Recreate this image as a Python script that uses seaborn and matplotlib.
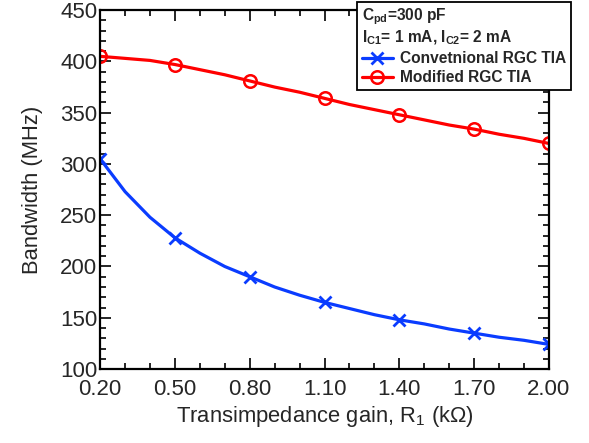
import numpy as np
import matplotlib
matplotlib.use('Agg')
import matplotlib.pyplot as plt
import seaborn as sns
from matplotlib.ticker import MultipleLocator, FormatStrFormatter

# data (every 0.1 kOhm, markers every 0.3)
gain = [0.2, 0.3, 0.4, 0.5, 0.6, 0.7, 0.8, 0.9, 1.0, 1.1,
        1.2, 1.3, 1.4, 1.5, 1.6, 1.7, 1.8, 1.9, 2.0]
bw_conv = [305, 273, 248, 228, 213, 200, 190, 180, 172, 165,
           159, 153, 148, 144, 139, 135, 131, 128, 124]
bw_mod = [405, 403, 401, 397, 392, 387, 381, 375, 370, 364,
          358, 353, 348, 343, 338, 334, 329, 325, 320]
x_ticks = [0.2, 0.5, 0.8, 1.1, 1.4, 1.7, 2.0]

sns.set_style('ticks')
plt.rcParams['font.family'] = ['Liberation Sans', 'DejaVu Sans']
plt.rcParams['mathtext.fontset'] = 'custom'
plt.rcParams['mathtext.rm'] = 'Liberation Sans'
plt.rcParams['mathtext.it'] = 'Liberation Sans:italic'
plt.rcParams['mathtext.bf'] = 'Liberation Sans:bold'

fig = plt.figure(figsize=(5.89, 4.43), dpi=100)
ax = fig.add_axes([0.170, 0.167, 0.762, 0.810])

sns.lineplot(x=gain, y=bw_conv, ax=ax, color='#0a3cff', lw=2.3,
             marker='x', markersize=8, markeredgewidth=2,
             markeredgecolor='#0a3cff', markevery=3,
             label='Convetnional RGC TIA')
sns.lineplot(x=gain, y=bw_mod, ax=ax, color='#ff0000', lw=2.3,
             marker='o', markersize=9, markeredgewidth=1.8,
             markeredgecolor='#ff0000', markerfacecolor='none', markevery=3,
             label='Modified RGC TIA')

ax.set_xlim(0.2, 2.0)
ax.set_ylim(100, 450)
ax.set_xticks(x_ticks)
ax.xaxis.set_minor_locator(MultipleLocator(0.1))
ax.xaxis.set_major_formatter(FormatStrFormatter('%.2f'))
ax.yaxis.set_major_locator(MultipleLocator(50))
ax.yaxis.set_minor_locator(MultipleLocator(10))

ax.tick_params(which='both', direction='in', top=True, right=True,
               width=1.2, color='black')
ax.tick_params(which='major', length=8, labelsize=16)
ax.tick_params(axis='x', which='major', pad=7)
ax.tick_params(axis='y', which='major', pad=2)
ax.tick_params(which='minor', length=4.5)
for s in ax.spines.values():
    s.set_linewidth(1.6)
    s.set_color('black')

ax.set_xlabel(r'Transimpedance gain, R$_1$ (k$\Omega$)', fontsize=15.8, labelpad=3)
ax.set_ylabel('Bandwidth (MHz)', fontsize=15.8, labelpad=12)

handles, labels = ax.get_legend_handles_labels()
leg = ax.legend(handles, labels,
                title=r'C$_{\mathbf{pd}}$=300 pF' + '\n' +
                      r'I$_{\mathbf{C1}}$= 1 mA, I$_{\mathbf{C2}}$= 2 mA',
                loc='upper left', bbox_to_anchor=(0.606, 0.995),
                bbox_transform=fig.transFigure,
                prop={'weight': 'bold', 'size': 11.2},
                title_fontproperties={'weight': 'bold', 'size': 11.2},
                alignment='left', frameon=True, fancybox=False,
                edgecolor='black', framealpha=1, handlelength=2.0,
                handletextpad=0.5, borderpad=0.3, labelspacing=0.25,
                borderaxespad=0)
leg.get_title().set_linespacing(1.1)
leg.get_frame().set_linewidth(1.3)

fig.savefig('out.png', dpi=100)
